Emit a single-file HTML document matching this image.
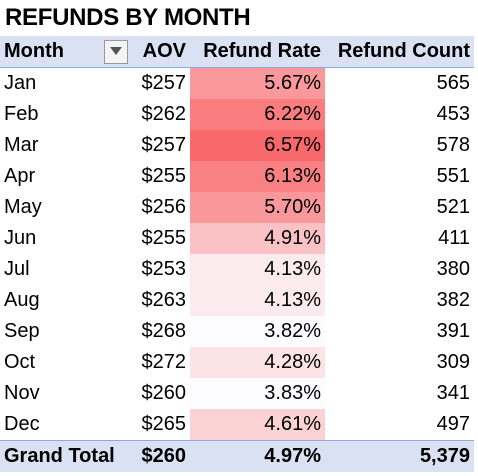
<!DOCTYPE html>
<html><head><meta charset="utf-8"><style>
body{margin:0;background:#fff;width:478px;height:476px;overflow:hidden;font-family:"Liberation Sans",sans-serif;}
#title{position:absolute;left:5px;top:4px;font-size:24px;font-weight:bold;letter-spacing:-0.3px;}
table{position:absolute;left:0;top:36px;border-collapse:collapse;width:474px;font-size:20px;table-layout:fixed;}
td,th{padding:0 4px;height:31px;white-space:nowrap;overflow:hidden;}
th{background:#D9E1F2;text-align:left;font-weight:bold;border-bottom:1px solid #8EA9DB;height:31px;}
.r{text-align:right}
tr.total td{background:#D9E1F2;font-weight:bold;border-top:1px solid #8EA9DB;}
.filter{display:inline-block;width:22px;height:22px;border:1px solid #999;background:#f4f4f4;vertical-align:middle;position:relative;margin-left:2px}
.filter:after{content:"";position:absolute;left:5px;top:6px;border-left:6px solid transparent;border-right:6px solid transparent;border-top:8px solid #555}
</style></head><body>
<div id="title">REFUNDS BY MONTH</div>
<table>
<colgroup><col style="width:132px"><col style="width:58px"><col style="width:135px"><col style="width:149px"></colgroup>
<thead><tr>
<th>Month<span style="float:right" class="filter"></span></th>
<th class="r">AOV</th>
<th class="r">Refund Rate</th>
<th class="r">Refund Count</th>
</tr></thead>
<tbody id="body"></tbody>
</table>
<script>
const months=["Jan","Feb","Mar","Apr","May","Jun","Jul","Aug","Sep","Oct","Nov","Dec"];
const aov=[257,262,257,255,256,255,253,263,268,272,260,265];
const rates=[5.67,6.22,6.57,6.13,5.70,4.91,4.13,4.13,3.82,4.28,3.83,4.61];
const counts=[565,453,578,551,521,411,380,382,391,309,341,497];
const totals=["$260","4.97%","5,379"];
const tb=document.getElementById('body');
const mn=Math.min(...rates),mx=Math.max(...rates);
function col(v){const t=(v-mn)/(mx-mn);const a=[252,252,255],b=[248,105,107];
return 'rgb('+a.map((c,i)=>Math.round(c+(b[i]-c)*t)).join(',')+')';}
months.forEach((m,i)=>{
const tr=document.createElement('tr');


tr.innerHTML='<td>'+m+'</td><td class="r">$'+aov[i]+'</td><td class="r" style="background:'+col(rates[i])+'">'+rates[i].toFixed(2)+'%</td><td class="r">'+counts[i].toLocaleString('en-US')+'</td>';
tb.appendChild(tr);});
const tr=document.createElement('tr');tr.className='total';


tr.innerHTML='<td>Grand Total</td><td class="r">'+totals[0]+'</td><td class="r">'+totals[1]+'</td><td class="r">'+totals[2]+'</td>';
tb.appendChild(tr);
</script>
</body></html>
